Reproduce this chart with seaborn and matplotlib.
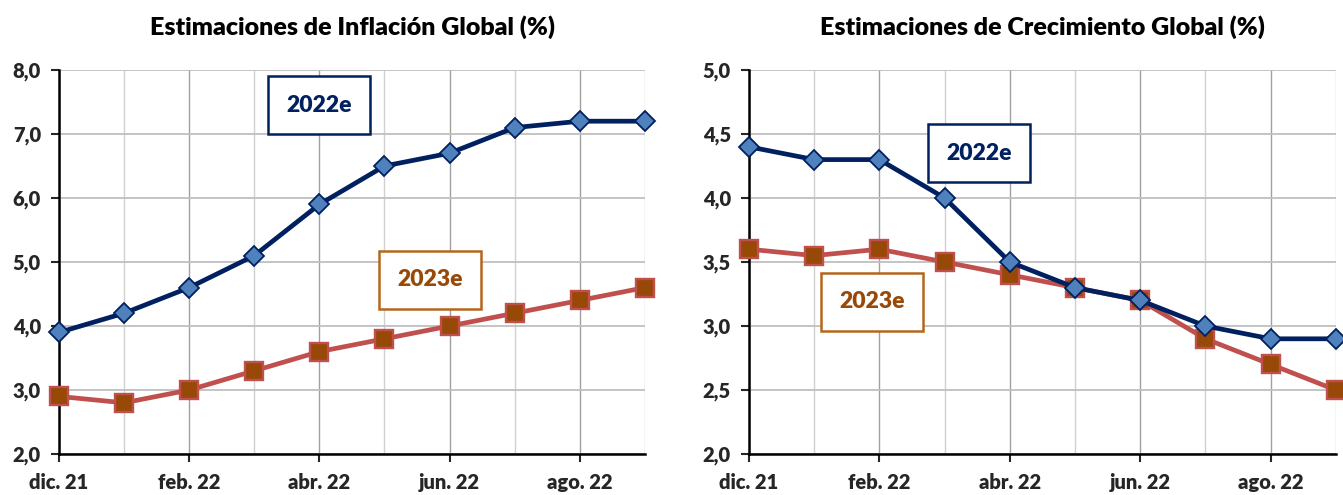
import numpy as np
import pandas as pd
import seaborn as sns
import matplotlib.pyplot as plt
from matplotlib.ticker import FixedLocator, FuncFormatter

# Data
months = ["dic. 21", "ene. 22", "feb. 22", "mar. 22", "abr. 22",
          "may. 22", "jun. 22", "jul. 22", "ago. 22", "sep. 22"]
infl_2022 = [3.9, 4.2, 4.6, 5.1, 5.9, 6.5, 6.7, 7.1, 7.2, 7.2]
infl_2023 = [2.9, 2.8, 3.0, 3.3, 3.6, 3.8, 4.0, 4.2, 4.4, 4.6]
crec_2022 = [4.4, 4.3, 4.3, 4.0, 3.5, 3.3, 3.2, 3.0, 2.9, 2.9]
crec_2023 = [3.6, 3.55, 3.6, 3.5, 3.4, 3.3, 3.2, 2.9, 2.7, 2.5]
titles = ["Estimaciones de Inflación Global (%)",
          "Estimaciones de Crecimiento Global (%)"]
series_names = ["2022e", "2023e"]

sns.set_style("white")
plt.rcParams['font.family'] = ['Lato', 'DejaVu Sans']

W = "heavy"
NAVY = "#002060"
BLUE = "#4F81BD"
RED = "#C0504D"
BROWN = "#984807"

fig = plt.figure(figsize=(13.43, 4.95), dpi=100)
ax1 = fig.add_axes([0.0439, 0.0828, 0.4363, 0.7758])
ax2 = fig.add_axes([0.5577, 0.0828, 0.4370, 0.7758])

panels = [
    (ax1, infl_2022, infl_2023, (2.0, 8.0), 1.0,
     [(4.0, 7.45), (5.7, 4.72)]),
    (ax2, crec_2022, crec_2023, (2.0, 5.0), 0.5,
     [(3.53, 4.35), (1.89, 3.19)]),
]

for ax, s22, s23, ylim, ystep, label_pos in panels:
    df = pd.DataFrame({"idx": np.arange(len(months)), "s22": s22, "s23": s23})
    sns.lineplot(data=df, x="idx", y="s22", ax=ax, color=NAVY, lw=3.4,
                 marker="D", markersize=10.5, markerfacecolor=BLUE,
                 markeredgecolor=NAVY, markeredgewidth=1.3, clip_on=False, zorder=4)
    sns.lineplot(data=df, x="idx", y="s23", ax=ax, color=RED, lw=3.4,
                 marker="s", markersize=13.5, markerfacecolor=BROWN,
                 markeredgecolor=RED, markeredgewidth=1.7, clip_on=False, zorder=3)

    ax.set_xlim(0, len(months) - 1)
    ax.set_ylim(*ylim)
    yt = np.arange(ylim[0], ylim[1] + 0.001, ystep)
    ax.set_yticks(yt)
    ax.yaxis.set_major_formatter(FuncFormatter(lambda v, p: f"{v:.1f}".replace(".", ",")))

    major = list(range(0, len(months), 2))
    ax.xaxis.set_major_locator(FixedLocator(major))
    ax.xaxis.set_minor_locator(FixedLocator(list(range(1, len(months), 2))))
    ax.set_xticklabels([months[i] for i in major])

    ax.grid(True, which="major", axis="y", color="#BFBFBF", lw=1.3)
    ax.grid(True, which="major", axis="x", color="#A0A0A0", lw=1.0)
    ax.grid(True, which="minor", axis="x", color="#D0D0D0", lw=1.0)
    ax.set_axisbelow(True)

    for sp in ["top", "right"]:
        ax.spines[sp].set_visible(False)
    for sp in ["left", "bottom"]:
        ax.spines[sp].set_color("black")
        ax.spines[sp].set_linewidth(1.8)
        ax.spines[sp].set_zorder(2)

    ax.tick_params(axis="y", which="major", direction="out", length=6, width=1.5,
                   left=True, labelsize=14.5, pad=7)
    ax.tick_params(axis="x", which="major", direction="out", length=6, width=1.5,
                   bottom=True, labelsize=14.5, pad=8)
    ax.tick_params(axis="x", which="minor", length=0)
    for lab in ax.get_xticklabels() + ax.get_yticklabels():
        lab.set_fontweight(W)

    ax.set_xlabel("")
    ax.set_ylabel("")

    for name, (tx, ty), col in zip(series_names, label_pos, [NAVY, BROWN]):
        edge = NAVY if col == NAVY else "#B5651D"
        ax.text(tx, ty, name, ha="center", va="center", fontsize=16.5,
                fontweight=W, color=col, zorder=6,
                bbox=dict(boxstyle="square,pad=0.8", fc="white", ec=edge, lw=1.8))

fig.text(0.2621, 0.945, titles[0], ha="center", va="center",
         fontsize=18, fontweight=W, color="black")
fig.text(0.7762, 0.945, titles[1], ha="center", va="center",
         fontsize=18, fontweight=W, color="black")

fig.savefig("out.png", dpi=100)
